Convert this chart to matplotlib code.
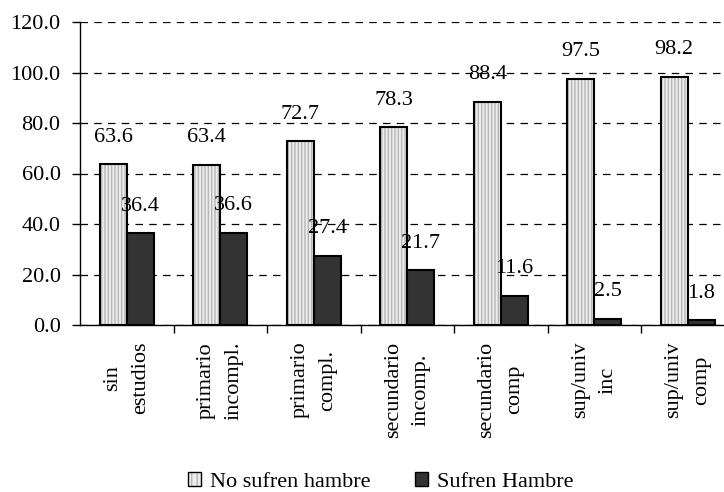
import matplotlib.pyplot as plt
from matplotlib.patches import Patch

categorias = ["sin\nestudios", "primario\nincompl.", "primario\ncompl.",
              "secundario\nincomp.", "secundario\ncomp", "sup/univ\ninc",
              "sup/univ\ncomp"]
no_sufren = [63.6, 63.4, 72.7, 78.3, 88.4, 97.5, 98.2]
sufren = [36.4, 36.6, 27.4, 21.7, 11.6, 2.5, 1.8]

plt.rcParams['font.family'] = ['Liberation Serif', 'DejaVu Serif']
plt.rcParams['font.size'] = 16

fig = plt.figure(figsize=(7.24, 4.92), dpi=100)
# el eje se sale un poco por la derecha, como en el original
ax = fig.add_axes([80 / 724, 167 / 492, 654.5 / 724, 303 / 492])

x = list(range(len(categorias)))
w = 0.289
x1 = [i - w / 2 for i in x]
x2 = [i + w / 2 for i in x]

# barras claras con rayas verticales
ax.bar(x1, no_sufren, w, color='#ededed', edgecolor='#b5b5b5', hatch='|||||',
       linewidth=0, zorder=3)
ax.bar(x1, no_sufren, w, fill=False, edgecolor='black', linewidth=1.5, zorder=4)
ax.bar(x2, sufren, w, color='#333333', edgecolor='black', linewidth=1.5, zorder=4)

for xi, v in zip(x1, no_sufren):
    ax.annotate('%.1f' % v, (xi, v), xytext=(0, 19.5), textcoords='offset points',
                ha='center', va='center', zorder=5)
for xi, v in zip(x2, sufren):
    ax.annotate('%.1f' % v, (xi, v), xytext=(0, 19.5), textcoords='offset points',
                ha='center', va='center', zorder=5)

ax.set_xlim(-0.5, len(categorias) - 0.5)
ax.set_ylim(0, 120)
ax.set_yticks(range(0, 121, 20))
ax.set_yticklabels(['%.1f' % t for t in range(0, 121, 20)])
ax.yaxis.grid(True, color='black', linestyle=(0, (6, 5)), linewidth=0.9)
ax.set_axisbelow(True)

ax.set_xticks(x)
ax.set_xticklabels(categorias, rotation=90, multialignment='center',
                   linespacing=1.65)
ax.set_xticks([i + 0.5 for i in x[:-1]], minor=True)
ax.tick_params(axis='x', which='major', length=0, pad=12)
ax.tick_params(axis='x', which='minor', length=6, width=1, direction='out')
ax.tick_params(axis='y', length=6, width=1, direction='out', pad=8)

for s in ['top', 'right']:
    ax.spines[s].set_visible(False)
ax.spines['left'].set_linewidth(1)
ax.spines['bottom'].set_linewidth(1)

h1 = (Patch(facecolor='#ededed', edgecolor='#b5b5b5', hatch='|||', linewidth=0),
      Patch(fill=False, edgecolor='black', linewidth=1))
h2 = Patch(facecolor='#333333', edgecolor='black', linewidth=1)
fig.legend([h1, h2], ['No sufren hambre', 'Sufren Hambre'],
           loc='center', bbox_to_anchor=(0.526, 0.02), ncol=2, frameon=False,
           handlelength=0.6, handleheight=0.6, handletextpad=0.4,
           columnspacing=2.0, borderpad=0, fontsize=16)

plt.savefig('out.png', dpi=100)
